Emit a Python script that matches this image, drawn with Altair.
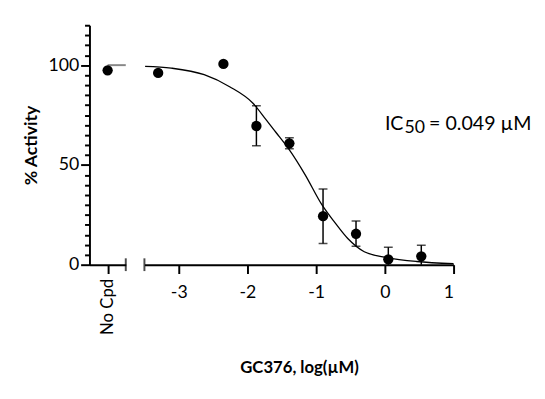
import altair as alt
import pandas as pd

# ---- data ----
ctrl_label = ["No Cpd"]
ctrl_pos = [1.0]
ctrl_act = [97.4]
ctrl_line_start = [1.0]
ctrl_line_end = [2.0]
ctrl_line_val = [100.0]

log_conc = [-3.30, -2.35, -1.87, -1.39, -0.90, -0.42, 0.05, 0.53]
activity = [96.1, 100.6, 69.5, 60.8, 24.3, 15.5, 2.7, 4.2]
err_hi = [96.1, 100.6, 79.7, 63.6, 37.9, 21.9, 8.7, 9.7]
err_lo = [96.1, 100.6, 59.6, 58.1, 10.6, 9.2, -3.3, -1.3]

curve_x = [-3.49, -3.11, -2.63, -2.26, -1.92, -1.73, -1.59, -1.40, -1.16,
           -0.92, -0.73, -0.54, -0.30, 0.03, 0.46, 1.00]
curve_y = [99.4, 98.5, 95.2, 89.2, 80.9, 72.7, 66.5, 58.0, 45.0,
           30.2, 21.2, 13.1, 6.5, 3.6, 1.6, 0.5]

right_ticks = [-3, -2, -1, 0, 1]
y_ticks = list(range(0, 121, 5))
break_left_x = [2.0]
break_right_x = [-3.5]

ann_x = [0.0]
ann_y = [67.5]

FONT = "Lato"

# ---- frames ----
ctrl_df = pd.DataFrame({"pos": ctrl_pos, "act": ctrl_act, "label": ctrl_label})
ctrl_line_df = pd.DataFrame({"s": ctrl_line_start, "e": ctrl_line_end, "v": ctrl_line_val})
pts_df = pd.DataFrame({"x": log_conc, "y": activity, "hi": err_hi, "lo": err_lo})
curve_df = pd.DataFrame({"x": curve_x, "y": curve_y})
brk_l_df = pd.DataFrame({"x": break_left_x, "y": [0.0]})
brk_r_df = pd.DataFrame({"x": break_right_x, "y": [0.0]})
ann_df = pd.DataFrame({"x": ann_x, "y": ann_y})

yscale = alt.Scale(domain=[0, 120], nice=False, zero=False)
xl_scale = alt.Scale(domain=[0, 2], nice=False, zero=False)
xr_scale = alt.Scale(domain=[-3.5, 1], nice=False, zero=False)

y_axis = alt.Axis(
    values=y_ticks,
    labelExpr="datum.value % 50 === 0 ? '' + datum.value : ''",
    labelOverlap=False,
    labelFlush=False,
    tickSize={"condition": {"test": "datum.value % 50 === 0", "value": 9}, "value": 5},
    labelPadding=2,
    title="% Activity",
    titleFontSize=18,
    titlePadding=8,
    grid=False,
)
xl_axis = alt.Axis(
    values=ctrl_pos,
    labelExpr="'No Cpd'",
    labelAngle=270,
    tickSize=9,
    labelPadding=5,
    labelFontSize=17,
    title=None,
    grid=False,
)
xr_axis = alt.Axis(
    values=right_ticks,
    labelExpr="'' + datum.value",
    tickSize=9,
    labelPadding=10,
    title="GC376, log(µM)",
    titlePadding=60,
    grid=False,
)


def yl(field):
    return alt.Y(field, scale=yscale, axis=y_axis)


def xl(field):
    return alt.X(field, scale=xl_scale, axis=xl_axis)


def xr(field):
    return alt.X(field, scale=xr_scale, axis=xr_axis)


def yr(field):
    return alt.Y(field, scale=yscale, axis=None)


# ---- left panel (No compound) ----
l_points = alt.Chart(ctrl_df).mark_circle(size=110, color="black", opacity=1).encode(
    x=xl("pos:Q"), y=yl("act:Q")
)
l_line = alt.Chart(ctrl_line_df).mark_rule(color="#888888", strokeWidth=2).encode(
    x=xl("s:Q"), x2="e:Q", y=yl("v:Q")
)
l_break = alt.Chart(brk_l_df).mark_tick(orient="vertical", size=13, thickness=2, color="black").encode(
    x=xl("x:Q"), y=yl("y:Q")
)
left = alt.layer(l_line, l_points, l_break).properties(width=37, height=244)

# ---- right panel (dose response) ----
r_curve = alt.Chart(curve_df).mark_line(color="black", strokeWidth=1.3, interpolate="monotone").encode(
    x=xr("x:Q"), y=yr("y:Q")
)
r_err = alt.Chart(pts_df).mark_rule(color="black", strokeWidth=1.5, clip=True).encode(
    x=xr("x:Q"), y=yr("lo:Q"), y2="hi:Q"
)
r_cap_hi = alt.Chart(pts_df).mark_tick(orient="horizontal", size=9, thickness=1.5, color="black", clip=True).encode(
    x=xr("x:Q"), y=yr("hi:Q")
)
r_cap_lo = alt.Chart(pts_df).mark_tick(orient="horizontal", size=9, thickness=1.5, color="black", clip=True).encode(
    x=xr("x:Q"), y=yr("lo:Q")
)
r_points = alt.Chart(pts_df).mark_circle(size=110, color="black", opacity=1).encode(
    x=xr("x:Q"), y=yr("y:Q")
)
r_break = alt.Chart(brk_r_df).mark_tick(orient="vertical", size=13, thickness=2, color="black").encode(
    x=xr("x:Q"), y=yr("y:Q")
)
ann_base = alt.Chart(ann_df).encode(x=xr("x:Q"), y=yr("y:Q"))
ann_ic = ann_base.mark_text(text="IC", align="left", baseline="alphabetic", font=FONT, fontSize=20, color="black")
ann_sub = ann_base.mark_text(text="50", align="left", baseline="alphabetic", dx=20, dy=3, font=FONT, fontSize=18, color="black")
ann_val = ann_base.mark_text(text="= 0.049 µM", align="left", baseline="alphabetic", dx=45, font=FONT, fontSize=20, color="black")

right = alt.layer(r_curve, r_err, r_cap_hi, r_cap_lo, r_points, r_break, ann_ic, ann_sub, ann_val).properties(
    width=315, height=244
)

chart = (
    alt.hconcat(left, right, spacing=19, bounds="flush")
    .resolve_scale(y="shared")
    .properties(padding={"left": 14, "top": 5, "right": 5, "bottom": 5})
    .configure_view(stroke=None)
    .configure_axis(
        domainColor="black",
        domainWidth=2,
        tickColor="black",
        tickWidth=2,
        labelColor="black",
        labelFont=FONT,
        labelFontSize=18,
        titleFont=FONT,
        titleFontSize=17,
        titleFontWeight="bold",
        titleColor="black",
    )
)

chart.save("out.html", embed_options={"renderer": "svg", "actions": False})
